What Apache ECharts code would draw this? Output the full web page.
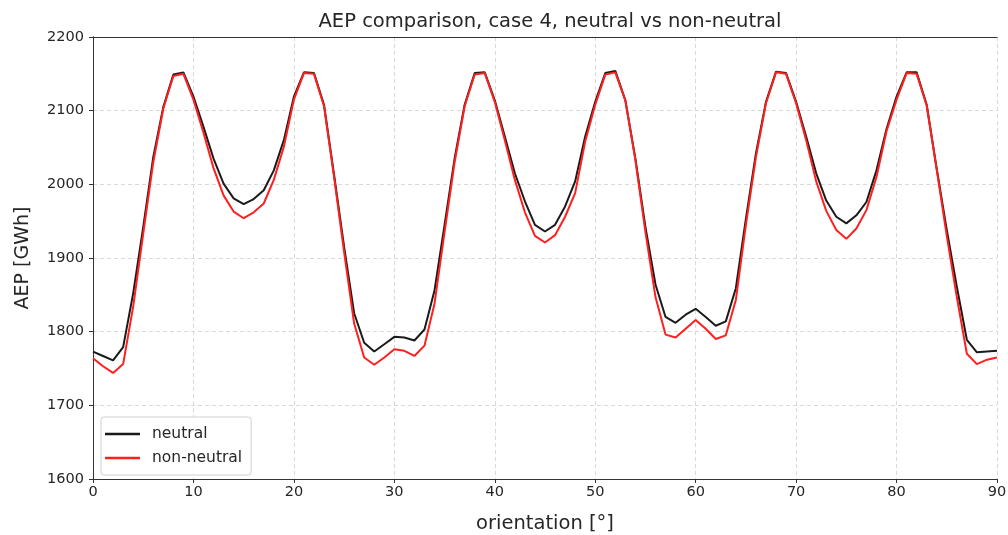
<!DOCTYPE html>
<html>
<head>
<meta charset="utf-8">
<script src="https://cdn.jsdelivr.net/npm/echarts@6/dist/echarts.min.js"></script>
<style>
  html, body { margin: 0; padding: 0; background: #fff; }
  #chart { width: 1008px; height: 535px; }
</style>
</head>
<body>
<div id="chart"></div>
<script>
// Orientation in degrees, one sample per degree
const orientation = Array.from({ length: 91 }, (_, i) => i);

// Annual energy production [GWh], neutral atmosphere
const aepNeutral = [
  1773, 1767, 1761, 1779, 1852, 1942, 2037, 2105, 2149, 2152,
  2119, 2078, 2035, 2001, 1981, 1973, 1980, 1992, 2019, 2060,
  2119, 2152, 2151, 2108, 2013, 1915, 1825, 1785, 1773, 1783,
  1793, 1792, 1788, 1803, 1856, 1945, 2035, 2108, 2151, 2152,
  2114, 2065, 2015, 1977, 1945, 1936, 1945, 1970, 2004, 2065,
  2112, 2151, 2154, 2114, 2035, 1942, 1864, 1820, 1812, 1823,
  1831, 1820, 1808, 1814, 1859, 1953, 2042, 2112, 2153, 2151,
  2112, 2065, 2015, 1978, 1956, 1947, 1958, 1976, 2019, 2075,
  2119, 2152, 2152, 2108, 2021, 1938, 1861, 1789, 1772, 1773,
  1774
];

// Annual energy production [GWh], non-neutral atmosphere
const aepNonNeutral = [
  1764, 1753, 1744, 1756, 1834, 1933, 2030, 2103, 2147, 2150,
  2115, 2070, 2022, 1985, 1963, 1954, 1962, 1974, 2006, 2051,
  2115, 2151, 2150, 2106, 2010, 1908, 1811, 1765, 1755, 1765,
  1776, 1774, 1767, 1781, 1838, 1935, 2030, 2106, 2149, 2151,
  2112, 2060, 2006, 1962, 1930, 1921, 1931, 1956, 1988, 2058,
  2108, 2149, 2152, 2114, 2033, 1935, 1847, 1796, 1792, 1804,
  1816, 1804, 1790, 1795, 1843, 1945, 2037, 2110, 2152, 2150,
  2110, 2060, 2004, 1964, 1938, 1926, 1940, 1965, 2010, 2072,
  2115, 2151, 2150, 2107, 2020, 1930, 1847, 1770, 1756, 1762,
  1765
];

const seriesNames = ['neutral', 'non-neutral'];
const seriesColors = ['#1a1a1a', '#ff1f1f'];

const pairs = (ys) => orientation.map((x, i) => [x, ys[i]]);

const font = 'DejaVu Sans';
const ink = '#262626';
const frame = '#333333';
const chart = echarts.init(document.getElementById('chart'), null, { renderer: 'canvas' });

const gridLine = { show: true, lineStyle: { color: '#d9d9d9', type: [4, 3], width: 1 } };
const tickStyle = { show: true, inside: false, length: 4, lineStyle: { color: frame } };
const frameOnly = {
  axisLine: { show: true, lineStyle: { color: frame, width: 1 } },
  axisTick: { show: false }, axisLabel: { show: false }, splitLine: { show: false }
};

chart.setOption({
  animation: false,
  backgroundColor: '#ffffff',
  title: {
    text: 'AEP comparison, case 4, neutral vs non-neutral',
    left: 545, top: 7, textAlign: 'center',
    textStyle: { fontFamily: font, fontSize: 19.5, fontWeight: 'normal', color: ink }
  },
  grid: {
    left: 93, right: 11, top: 37, bottom: 56,
    containLabel: false, outerBoundsMode: 'none'
  },
  legend: {
    data: seriesNames,
    orient: 'vertical',
    left: 101, top: 417,
    icon: 'rect', itemWidth: 35, itemHeight: 2.5, itemGap: 8,
    padding: [9, 9, 9, 4],
    backgroundColor: 'rgba(255,255,255,0.85)',
    borderColor: '#d0d0d0', borderWidth: 1, borderRadius: 3,
    textStyle: { fontFamily: font, fontSize: 15.5, color: ink, padding: [0, 0, 0, 7] }
  },
  xAxis: [
    {
      type: 'value', min: 0, max: 90, interval: 10,
      name: 'orientation [°]', nameLocation: 'middle', nameGap: 35,
      nameTextStyle: { fontFamily: font, fontSize: 19.5, color: ink },
      axisLine: { show: true, onZero: false, lineStyle: { color: frame, width: 1 } },
      axisTick: tickStyle,
      axisLabel: { fontFamily: font, fontSize: 14.5, color: ink, margin: 6 },
      splitLine: gridLine
    },
    Object.assign({ type: 'value', position: 'top', min: 0, max: 90 }, frameOnly)
  ],
  yAxis: [
    {
      type: 'value', min: 1600, max: 2200, interval: 100,
      name: 'AEP [GWh]', nameLocation: 'middle', nameGap: 60, nameRotate: 90,
      nameTextStyle: { fontFamily: font, fontSize: 19, color: ink },
      axisLine: { show: true, onZero: false, lineStyle: { color: frame, width: 1 } },
      axisTick: tickStyle,
      axisLabel: { fontFamily: font, fontSize: 14.5, color: ink, margin: 9, formatter: (v) => String(v) },
      splitLine: gridLine
    },
    Object.assign({ type: 'value', position: 'right', min: 1600, max: 2200 }, frameOnly)
  ],
  series: [
    {
      name: seriesNames[0], type: 'line', data: pairs(aepNeutral),
      showSymbol: false, color: seriesColors[0],
      lineStyle: { width: 2, color: seriesColors[0] }
    },
    {
      name: seriesNames[1], type: 'line', data: pairs(aepNonNeutral),
      showSymbol: false, color: seriesColors[1],
      lineStyle: { width: 2, color: seriesColors[1] }
    }
  ]
});
</script>
</body>
</html>
